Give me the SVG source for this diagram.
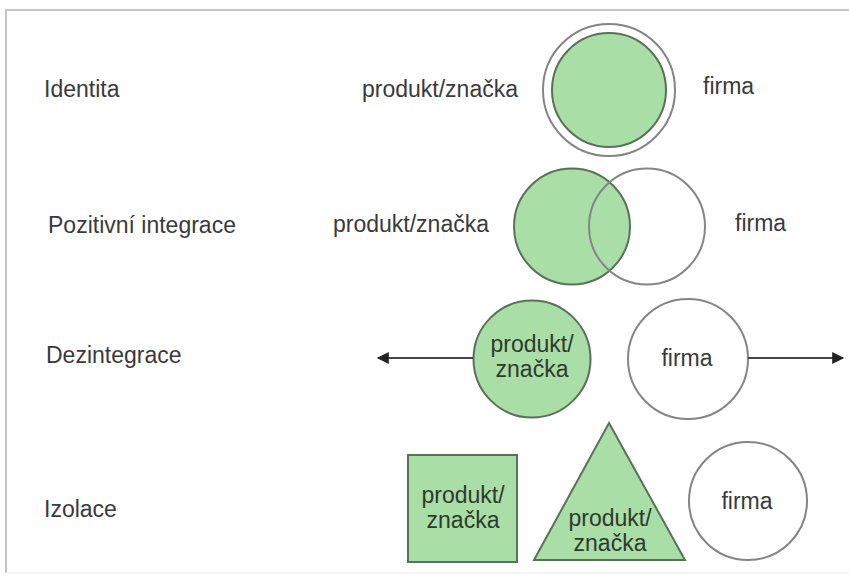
<svg xmlns="http://www.w3.org/2000/svg" width="849" height="578" viewBox="0 0 849 578">
<style>
text{font-family:"Liberation Sans",Arial,sans-serif;font-size:23px;fill:#3a3a3a}
.c{text-anchor:middle}
.g{fill:#a9dea6;stroke:#5b7059;stroke-width:2}
.w{fill:#fff;stroke:#858585;stroke-width:2}
.o{fill:none;stroke:#858585;stroke-width:2}
.gt{fill:#2f3a2f}
.ln{stroke:#444;stroke-width:2;fill:none}
</style>
<defs>
<marker id="ah" viewBox="0 0 10 10" refX="9" refY="5" markerWidth="15" markerHeight="12" markerUnits="userSpaceOnUse" orient="auto">
<path d="M0,0 L10,5 L0,10 z" fill="#222"/>
</marker>
</defs>
<rect x="0" y="0" width="849" height="578" fill="#fff"/>
<path d="M6,573 V10 H849" fill="none" stroke="#c4c4c4" stroke-width="2"/>
<path d="M6,573 H849" fill="none" stroke="#f0f0f0" stroke-width="1.5"/>

<g id="labels">
<text x="44" y="97">Identita</text>
<text x="48" y="233">Pozitivní integrace</text>
<text x="46" y="363">Dezintegrace</text>
<text x="44" y="517">Izolace</text>
</g>

<g id="identita">
<circle cx="609" cy="90" r="66" class="w"/>
<circle cx="609" cy="90" r="57" class="g"/>
<text x="362" y="97">produkt/značka</text>
<text x="703" y="94">firma</text>
</g>

<g id="pozitivni">
<circle cx="572" cy="226.5" r="58" class="g"/>
<circle cx="647" cy="226.5" r="58" class="o"/>
<text x="333" y="232">produkt/značka</text>
<text x="735" y="231">firma</text>
</g>

<g id="dez-produkt">
<circle cx="532" cy="359" r="58.5" class="g"/>
<text x="532" y="352" class="c gt">produkt/</text>
<text x="532" y="377" class="c gt">značka</text>
</g>
<g id="dez-firma">
<circle cx="688" cy="359" r="60" class="w"/>
<text x="687" y="366" class="c">firma</text>
</g>

<g id="connectors">
<line x1="473" y1="358" x2="378" y2="358" class="ln" marker-end="url(#ah)"/>
<line x1="748" y1="358" x2="843" y2="358" class="ln" marker-end="url(#ah)"/>
</g>

<g id="izo-ctverec">
<rect x="408" y="455" width="109" height="107" class="g"/>
<text x="463" y="503" class="c gt">produkt/</text>
<text x="463" y="528" class="c gt">značka</text>
</g>
<g id="izo-trojuhelnik">
<polygon points="609,423 685,560 534,560" class="g"/>
<text x="610" y="526" class="c gt">produkt/</text>
<text x="610" y="551" class="c gt">značka</text>
</g>
<g id="izo-firma">
<circle cx="748" cy="501" r="59" class="w"/>
<text x="747" y="509" class="c">firma</text>
</g>
</svg>
